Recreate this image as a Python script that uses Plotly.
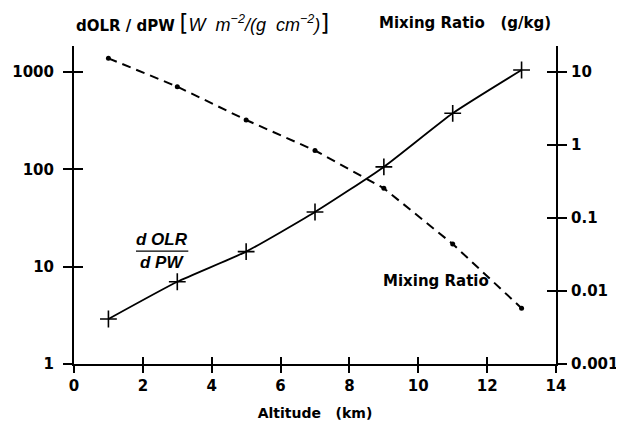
import plotly.graph_objects as go

# ---- data ----
altitude_km = [1, 3, 5, 7, 9, 11, 13]
dolr_dpw = [2.9, 7.0, 14.3, 36.5, 106, 377, 1050]          # left axis
mixing_ratio = [15.4, 6.3, 2.2, 0.84, 0.255, 0.044, 0.0058]  # right axis (g/kg)

x_ticks = [0, 2, 4, 6, 8, 10, 12, 14]
left_ticks = [1, 10, 100, 1000]
left_ticktext = ["1", "10", "100", "1000"]
right_ticks = [0.001, 0.01, 0.1, 1, 10]
right_ticktext = ["0.001", "0.01", "0.1", "1", "10"]

BOLD = dict(family="DejaVu Sans", size=15, color="black", weight="bold")

fig = go.Figure()

fig.add_trace(go.Scatter(
    x=altitude_km, y=dolr_dpw, mode="lines+markers",
    line=dict(color="black", width=1.8, shape="spline", smoothing=0.5),
    marker=dict(symbol="cross-thin", size=12, line=dict(width=1.6, color="black")),
    xaxis="x", yaxis="y", showlegend=False, hoverinfo="skip"))

fig.add_trace(go.Scatter(
    x=altitude_km, y=mixing_ratio, mode="lines+markers",
    line=dict(color="black", width=2, dash="9px,6px"),
    marker=dict(symbol="circle", size=5, color="black"),
    xaxis="x", yaxis="y2", showlegend=False, hoverinfo="skip"))

# empty traces so the overlay (inside-tick) axes are drawn
fig.add_trace(go.Scatter(x=[], y=[], xaxis="x2", yaxis="y3", showlegend=False))
fig.add_trace(go.Scatter(x=[], y=[], xaxis="x2", yaxis="y4", showlegend=False))

common_x = dict(range=[0, 14], tickvals=x_ticks, showgrid=False, zeroline=False,
                tickcolor="black", tickwidth=1.6, ticklen=7, automargin=False)
left_log = [0, 3.268]
right_log = [-3, 1.356]

# page has an 8px body margin, so the figure is made 8px smaller
fig.update_layout(
    width=616, height=427,
    margin=dict(l=66, r=68, t=38, b=71),
    paper_bgcolor="white", plot_bgcolor="white",
    xaxis=dict(**common_x, ticks="outside", showline=True, linecolor="black", linewidth=2,
               ticktext=[str(v) for v in x_ticks], tickfont=BOLD,
               title=dict(text="Altitude\u00a0\u00a0\u00a0(km)", font=dict(family="DejaVu Sans", size=14, color="black", weight="bold"), standoff=14),
               anchor="y"),
    xaxis2=dict(**common_x, ticks="inside", showticklabels=False, showline=False,
                overlaying="x", anchor="y", side="bottom"),
    yaxis=dict(type="log", range=left_log, tickvals=left_ticks, ticktext=left_ticktext,
               ticks="outside", ticklen=9, tickwidth=1.6, tickcolor="black",
               showline=True, linecolor="black", linewidth=2, showgrid=False, zeroline=False,
               tickfont=BOLD, ticklabelstandoff=6, anchor="x", automargin=False),
    yaxis2=dict(type="log", range=right_log, tickvals=right_ticks, ticktext=right_ticktext,
                ticks="outside", ticklen=9, tickwidth=1.6, tickcolor="black",
                showline=True, linecolor="black", linewidth=2, showgrid=False, zeroline=False,
                tickfont=BOLD, side="right", overlaying="y", anchor="x", ticklabelstandoff=1,
                automargin=False),
    yaxis3=dict(type="log", range=left_log, tickvals=left_ticks, ticks="inside", ticklen=9,
                tickwidth=1.6, tickcolor="black", showticklabels=False, showline=False,
                showgrid=False, zeroline=False, overlaying="y", anchor="x2", side="left",
                automargin=False),
    yaxis4=dict(type="log", range=right_log, tickvals=right_ticks, ticks="inside", ticklen=9,
                tickwidth=1.6, tickcolor="black", showticklabels=False, showline=False,
                showgrid=False, zeroline=False, overlaying="y", anchor="x2", side="right",
                automargin=False),
)

ital = "font-family:Liberation Sans;font-weight:normal;font-size:18px"
br = "<span style='font-size:23px;font-weight:normal'>{}</span>"
left_title = ("<b>dOLR / dPW</b> " + br.format("[")
              + f"<span style='{ital}'><i>W\u00a0 m<sup>−2</sup>/(g\u00a0 cm<sup>−2</sup>)</i></span>"
              + br.format("]"))
fig.add_annotation(text=left_title, xref="paper", yref="paper", x=0.0, y=1.072,
                   xanchor="left", yanchor="middle", showarrow=False,
                   font=dict(family="DejaVu Sans", size=15, color="black"))
fig.add_annotation(text="<b>Mixing Ratio\u00a0\u00a0\u00a0(g/kg)</b>", xref="paper", yref="paper",
                   x=0.994, y=1.072, xanchor="right", yanchor="middle", showarrow=False,
                   font=dict(family="DejaVu Sans", size=15, color="black"))

# d OLR / d PW fraction label
fig.add_annotation(text="<i>d OLR</i>", xref="x", yref="paper", x=2.56, y=0.355,
                   yanchor="bottom", showarrow=False, yshift=0,
                   font=dict(family="Liberation Sans", size=17, color="black", weight="bold"))
fig.add_annotation(text="<i>d PW</i>", xref="x", yref="paper", x=2.56, y=0.355,
                   yanchor="top", showarrow=False, yshift=0,
                   font=dict(family="Liberation Sans", size=17, color="black", weight="bold"))
fig.add_shape(type="line", xref="x", yref="paper", x0=1.8, x1=3.32, y0=0.355, y1=0.355,
              line=dict(color="black", width=1.2))

fig.add_annotation(text="<b>Mixing Ratio</b>", xref="x", yref="paper", x=10.51, y=0.226,
                   showarrow=False, font=dict(family="DejaVu Sans", size=15, color="black"))

fig.write_html("out.html")
